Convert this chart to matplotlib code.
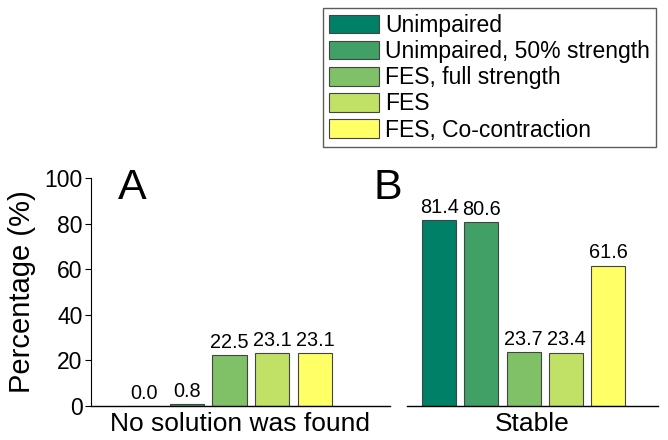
import matplotlib.pyplot as plt
import numpy as np

plt.rcParams['font.family'] = ['Liberation Sans', 'DejaVu Sans']

conditions = ["Unimpaired", "Unimpaired, 50% strength", "FES, full strength",
              "FES", "FES, Co-contraction"]
no_solution = [0.0, 0.8, 22.5, 23.1, 23.1]
stable = [81.4, 80.6, 23.7, 23.4, 61.6]
colors = [plt.cm.summer(v) for v in np.linspace(0, 1, 5)]

fig = plt.figure(figsize=(6.68, 4.40), dpi=100)
axA = fig.add_axes([91/668, 34/440, 299/668, 228/440])
axB = fig.add_axes([407/668, 34/440, 251/668, 228/440])

x = np.arange(5)
bars = None
for ax, vals, xl, lim in [(axA, no_solution, "No solution was found", (-1.24, 5.75)),
                          (axB, stable, "Stable", (-0.76, 5.18))]:
    bars = ax.bar(x, vals, width=0.8, color=colors, edgecolor='#444444', linewidth=0.8)
    for xi, v in zip(x, vals):
        ax.text(xi, v + 1.4, f"{v:.1f}", ha='center', va='bottom', fontsize=14.3)
    ax.set_xlim(*lim)
    ax.set_ylim(0, 100)
    ax.set_xticks([])
    ax.set_xlabel(xl, fontsize=19, labelpad=4)
    for s in ['top', 'right']:
        ax.spines[s].set_visible(False)
    ax.spines['bottom'].set_linewidth(1.0)

axA.set_yticks([0, 20, 40, 60, 80, 100])
axA.tick_params(axis='y', labelsize=16.5, direction='out', length=4, width=0.8, pad=2)
axA.set_ylabel("Percentage (%)", fontsize=21, labelpad=6)
axA.spines['left'].set_linewidth(0.8)
axB.spines['left'].set_visible(False)
axB.set_yticks([])

axA.text(-0.6, 90.8, "A", fontsize=31, ha='left', va='baseline')
axB.text(-1.55, 90.8, "B", fontsize=31, ha='left', va='baseline', clip_on=False)

leg = fig.legend(bars, conditions, loc='upper left', bbox_to_anchor=(323/668, 1 - 8/440),
                 fontsize=16.5, frameon=True, fancybox=False, edgecolor='#333333',
                 handlelength=2.2, handleheight=0.87, handletextpad=0.26,
                 labelspacing=0.14, borderpad=0.25, borderaxespad=0)
leg.get_frame().set_linewidth(1.0)

fig.savefig("out.png", dpi=100)
